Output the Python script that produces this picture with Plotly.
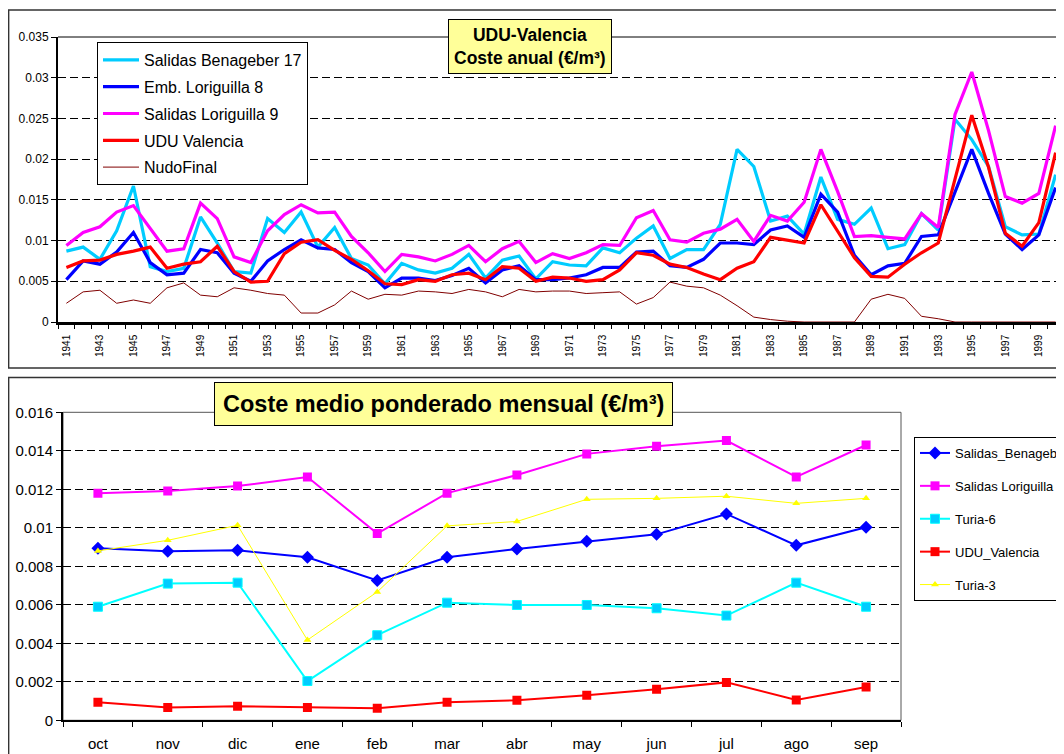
import plotly.graph_objects as go

# ---------------- Data: top chart (annual cost) ----------------
years = list(range(1941, 2001))
year_ticks = list(range(1941, 2000, 2))

benageber_17 = [0.0087, 0.0092, 0.0077, 0.0112, 0.0167, 0.0068, 0.0062, 0.0066, 0.0129, 0.0097,
                0.0062, 0.0060, 0.0127, 0.0110, 0.0135, 0.0092, 0.0116, 0.0078, 0.0070, 0.0047,
                0.0072, 0.0064, 0.0060, 0.0066, 0.0083, 0.0054, 0.0076, 0.0081, 0.0053, 0.0074,
                0.0070, 0.0069, 0.0091, 0.0085, 0.0103, 0.0118, 0.0078, 0.0089, 0.0089, 0.0120,
                0.0212, 0.0191, 0.0124, 0.0130, 0.0108, 0.0178, 0.0126, 0.0120, 0.0140, 0.0090,
                0.0095, 0.0133, 0.0113, 0.0249, 0.0224, 0.0191, 0.0117, 0.0107, 0.0108, 0.0181]

emb_loriguilla_8 = [0.0052, 0.0075, 0.0071, 0.0086, 0.0110, 0.0073, 0.0058, 0.0060, 0.0089, 0.0085,
                    0.0060, 0.0050, 0.0075, 0.0089, 0.0101, 0.0091, 0.0089, 0.0073, 0.0062, 0.0042,
                    0.0054, 0.0054, 0.0051, 0.0057, 0.0066, 0.0048, 0.0064, 0.0069, 0.0052, 0.0052,
                    0.0054, 0.0058, 0.0067, 0.0067, 0.0086, 0.0087, 0.0069, 0.0067, 0.0077, 0.0097,
                    0.0097, 0.0095, 0.0113, 0.0118, 0.0104, 0.0157, 0.0135, 0.0082, 0.0058, 0.0069,
                    0.0072, 0.0105, 0.0107, 0.0160, 0.0212, 0.0158, 0.0108, 0.0089, 0.0107, 0.0165]

salidas_loriguilla_9 = [0.0094, 0.0110, 0.0117, 0.0135, 0.0143, 0.0115, 0.0087, 0.0090, 0.0146, 0.0127,
                        0.0080, 0.0073, 0.0112, 0.0132, 0.0144, 0.0134, 0.0135, 0.0105, 0.0085, 0.0062,
                        0.0083, 0.0080, 0.0075, 0.0083, 0.0094, 0.0074, 0.0090, 0.0099, 0.0073, 0.0084,
                        0.0078, 0.0085, 0.0095, 0.0094, 0.0128, 0.0137, 0.0101, 0.0098, 0.0109, 0.0114,
                        0.0126, 0.0099, 0.0131, 0.0124, 0.0147, 0.0212, 0.0160, 0.0105, 0.0106, 0.0104,
                        0.0102, 0.0133, 0.0116, 0.0255, 0.0307, 0.0235, 0.0154, 0.0146, 0.0158, 0.0241]

udu_valencia = [0.0067, 0.0075, 0.0076, 0.0083, 0.0087, 0.0092, 0.0066, 0.0071, 0.0074, 0.0093,
                0.0062, 0.0049, 0.0050, 0.0084, 0.0098, 0.0101, 0.0088, 0.0077, 0.0063, 0.0047,
                0.0046, 0.0052, 0.0050, 0.0058, 0.0060, 0.0052, 0.0068, 0.0066, 0.0050, 0.0055,
                0.0054, 0.0050, 0.0052, 0.0064, 0.0085, 0.0082, 0.0071, 0.0067, 0.0059, 0.0052,
                0.0066, 0.0074, 0.0104, 0.0101, 0.0097, 0.0144, 0.0111, 0.0079, 0.0056, 0.0055,
                0.0071, 0.0085, 0.0097, 0.0174, 0.0254, 0.0190, 0.0109, 0.0093, 0.0122, 0.0208]

nudo_final = [0.0023, 0.0037, 0.0039, 0.0023, 0.0027, 0.0023, 0.0042, 0.0048, 0.0033, 0.0031,
              0.0042, 0.0039, 0.0035, 0.0033, 0.0011, 0.0011, 0.0021, 0.0038, 0.0028, 0.0034,
              0.0033, 0.0038, 0.0037, 0.0035, 0.0040, 0.0037, 0.0031, 0.0040, 0.0037, 0.0038,
              0.0038, 0.0035, 0.0036, 0.0037, 0.0022, 0.0030, 0.0049, 0.0044, 0.0042, 0.0033,
              0.0020, 0.0006, 0.0003, 0.0001, 0.0, 0.0, 0.0, 0.0, 0.0028, 0.0034,
              0.0029, 0.0007, 0.0004, 0.0, 0.0, 0.0, 0.0, 0.0, 0.0, 0.0]

# ---------------- Data: bottom chart (monthly weighted cost) ----------------
months = ["oct", "nov", "dic", "ene", "feb", "mar", "abr", "may", "jun", "jul", "ago", "sep"]
m_benageber = [0.00894, 0.00878, 0.00883, 0.00847, 0.00726, 0.00847, 0.00890, 0.00930, 0.00966, 0.01072, 0.00909, 0.01003]
m_loriguilla = [0.01179, 0.01191, 0.01217, 0.01264, 0.00970, 0.01180, 0.01274, 0.01384, 0.01423, 0.01453, 0.01264, 0.01430]
m_turia6 = [0.00590, 0.00710, 0.00715, 0.00204, 0.00442, 0.00611, 0.00599, 0.00599, 0.00582, 0.00544, 0.00715, 0.00590]
m_udu = [0.00094, 0.00066, 0.00073, 0.00066, 0.00062, 0.00094, 0.00104, 0.00130, 0.00161, 0.00197, 0.00106, 0.00173]
m_turia3 = [0.00880, 0.00935, 0.01013, 0.00417, 0.00667, 0.01010, 0.01033, 0.01148, 0.01153, 0.01164, 0.01127, 0.01153]

# The page body has an 8px margin, so the figure is drawn 8px smaller and
# window-pixel positions are converted to figure coordinates.
OFF = 8
W, H = 1064 - OFF, 754 - OFF
FONT = "Arial, Liberation Sans, sans-serif"


def px_x(p):
    return (p - OFF) / W


def px_y(p):
    return 1 - (p - OFF) / H


fig = go.Figure()

top_series = [
    ("Salidas Benageber 17", benageber_17, "#00CCFF", 3.2),
    ("Emb. Loriguilla 8", emb_loriguilla_8, "#0000FF", 3.2),
    ("Salidas Loriguilla 9", salidas_loriguilla_9, "#FF00FF", 3.2),
    ("UDU Valencia", udu_valencia, "#FF0000", 3.2),
    ("NudoFinal", nudo_final, "#800000", 1),
]
for i, (name, vals, col, lw) in enumerate(top_series):
    fig.add_trace(go.Scatter(
        x=years, y=vals, name=name, mode="lines",
        line=dict(color=col, width=lw),
        xaxis="x", yaxis="y", legend="legend", legendgroup="t%d" % i,
    ))

month_idx = list(range(len(months)))
bottom_series = [
    ("Salidas_Benageber", m_benageber, "#0000FF", 2, dict(symbol="diamond", size=10, color="#0000FF")),
    ("Salidas Loriguilla", m_loriguilla, "#FF00FF", 2, dict(symbol="square", size=9, color="#FF00FF")),
    ("Turia-6", m_turia6, "#00FFFF", 2, dict(symbol="square", size=9, color="#00CCFF",
                                             line=dict(color="#00FFFF", width=1))),
    ("UDU_Valencia", m_udu, "#FF0000", 2, dict(symbol="square", size=9, color="#FF0000")),
    ("Turia-3", m_turia3, "#FFFF00", 1, dict(symbol="triangle-up", size=7, color="#FFFF00")),
]
for i, (name, vals, col, lw, mk) in enumerate(bottom_series):
    fig.add_trace(go.Scatter(
        x=month_idx, y=vals, name=name, mode="lines+markers",
        line=dict(color=col, width=lw), marker=mk,
        xaxis="x2", yaxis="y2", legend="legend2", legendgroup="b%d" % i,
    ))

dash = "8px,4px"

fig.update_layout(
    width=W, height=H,
    margin=dict(l=0, r=0, t=0, b=0, autoexpand=False),
    paper_bgcolor="white", plot_bgcolor="white",
    font=dict(family=FONT, color="black"),
    showlegend=True,
    xaxis=dict(
        domain=[px_x(58), 1.0], range=[1940.5, 2000.5], anchor="y",
        tickmode="array", tickvals=year_ticks, ticktext=[str(v) for v in year_ticks],
        tickangle=-90, tickfont=dict(size=10, family=FONT),
        ticks="outside", ticklen=6, tickcolor="rgba(0,0,0,0)",
        minor=dict(ticks="outside", ticklen=4, tickcolor="black", tickmode="linear",
                   tick0=1940.5, dtick=1, showgrid=False),
        showline=True, linecolor="black", linewidth=2.5,
        showgrid=False, zeroline=False, fixedrange=True,
    ),
    yaxis=dict(
        domain=[px_y(322), px_y(37)], range=[0, 0.035], anchor="x",
        tickmode="linear", tick0=0, dtick=0.005,
        tickfont=dict(size=12, family=FONT),
        ticks="outside", ticklen=5, tickcolor="black",
        showline=True, linecolor="black", linewidth=2,
        showgrid=True, gridcolor="black", gridwidth=1, griddash=dash,
        zeroline=False, fixedrange=True,
    ),
    xaxis2=dict(
        domain=[px_x(63), px_x(901)], range=[-0.5, 11.5], anchor="y2",
        tickmode="array", tickvals=month_idx, ticktext=months,
        tickfont=dict(size=15, family=FONT),
        ticks="outside", ticklen=9, tickcolor="rgba(0,0,0,0)",
        minor=dict(ticks="outside", ticklen=5, tickcolor="black", tickmode="linear",
                   tick0=-0.5, dtick=1, showgrid=False),
        showline=True, linecolor="black", linewidth=2,
        showgrid=False, zeroline=False, fixedrange=True,
    ),
    yaxis2=dict(
        domain=[px_y(720.3), px_y(412.3)], range=[0, 0.016], anchor="x2",
        tickmode="linear", tick0=0, dtick=0.002,
        tickfont=dict(size=15, family=FONT),
        ticks="outside", ticklen=5, tickcolor="black",
        showline=True, linecolor="black", linewidth=2,
        showgrid=True, gridcolor="black", gridwidth=1, griddash=dash,
        zeroline=False, fixedrange=True,
    ),
    legend=dict(
        x=px_x(97), y=px_y(42), xanchor="left", yanchor="top",
        bgcolor="white", bordercolor="black", borderwidth=1,
        font=dict(size=16, family=FONT), tracegroupgap=3,
        traceorder="grouped", itemwidth=36,
    ),
    legend2=dict(
        x=px_x(914), y=px_y(437), xanchor="left", yanchor="top",
        bgcolor="white", bordercolor="black", borderwidth=1,
        font=dict(size=13, family=FONT), tracegroupgap=13,
        traceorder="grouped",
    ),
)

shapes = [
    # outer frame of top chart
    dict(type="rect", xref="paper", yref="paper", x0=0.0006, x1=1.02, y0=px_y(368), y1=px_y(10),
         line=dict(color="#333333", width=1.5), fillcolor="rgba(0,0,0,0)", layer="below"),
    # outer frame of bottom chart
    dict(type="rect", xref="paper", yref="paper", x0=0.0006, x1=1.02, y0=-0.02, y1=px_y(377.5),
         line=dict(color="#333333", width=1.5), fillcolor="rgba(0,0,0,0)", layer="below"),
    # top plot area upper border
    dict(type="line", xref="x domain", yref="y domain", x0=0, x1=1.01, y0=1, y1=1,
         line=dict(color="black", width=1)),
    # bottom plot area border
    dict(type="rect", xref="x2 domain", yref="y2 domain", x0=0, x1=1, y0=0, y1=1,
         line=dict(color="#555555", width=1), fillcolor="rgba(0,0,0,0)", layer="below"),
]
fig.update_layout(shapes=shapes)

fig.add_annotation(
    xref="paper", yref="paper", x=px_x(529.5), y=px_y(46.5), xanchor="center", yanchor="middle",
    text="<b>UDU-Valencia</b><br><b>Coste anual (€/m³)</b>", showarrow=False, align="center",
    font=dict(size=17.5, family=FONT, color="black"),
    bgcolor="#FFFF99", bordercolor="black", borderwidth=1, borderpad=5,
)
fig.add_annotation(
    xref="paper", yref="paper", x=px_x(443.5), y=px_y(403.5), xanchor="center", yanchor="middle",
    text="<b>Coste medio ponderado mensual (€/m³)</b>", showarrow=False, align="center",
    font=dict(size=23.5, family=FONT, color="black"),
    bgcolor="#FFFF99", bordercolor="black", borderwidth=1, borderpad=8,
)

fig.write_html("out.html")
